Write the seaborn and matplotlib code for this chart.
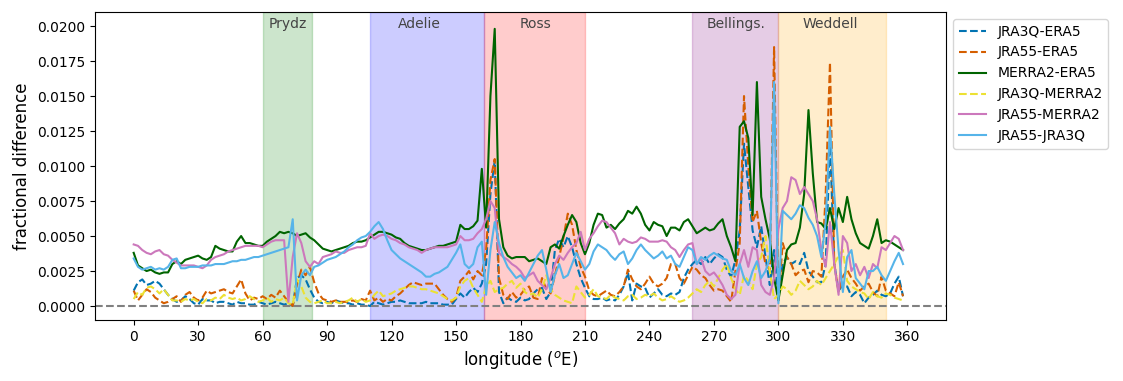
import numpy as np
import pandas as pd
import matplotlib
matplotlib.use("Agg")
import matplotlib.pyplot as plt
import matplotlib.transforms as mtransforms
import seaborn as sns

# longitude grid (deg E)
lon = np.arange(0, 360, 2)

# values in units of 1e-4 (fractional difference)
jra3q_era5 = [
    11, 17, 19, 15, 16, 18, 16, 12, 8, 5,
    3, 4, 7, 5, 2, 1, 5, 4, 4, 2,
    3, 3, 2, 1, 3, 2, 2, 1, 1, 3,
    2, 1, 2, 3, 2, 1, 2, 0, 20, 22,
    19, 12, 6, 3, 2, 3, 2, 4, 3, 2,
    2, 1, 2, 1, 1, 0, 3, 2, 1, 2,
    3, 3, 4, 3, 2, 2, 2, 2, 3, 2,
    2, 2, 1, 1, 1, 5, 9, 6, 10, 13,
    10, 16, 30, 80, 104, 10, 2, 6, 4, 3,
    6, 4, 5, 9, 12, 13, 5, 10, 40, 48,
    42, 50, 42, 30, 20, 13, 7, 5, 5, 6,
    4, 5, 4, 8, 14, 24, 4, 16, 14, 13,
    6, 9, 12, 8, 7, 9, 8, 10, 20, 26,
    30, 33, 30, 35, 30, 34, 37, 35, 26, 21,
    33, 54, 116, 85, 54, 42, 57, 35, 15, 40,
    7, 30, 35, 30, 32, 30, 38, 25, 21, 17,
    17, 30, 118, 30, 11, 15, 14, 7, 10, 8,
    2, 6, 8, 11, 8, 7, 9, 16, 21, 7,
]
jra55_era5 = [
    11, 4, 8, 12, 10, 6, 4, 2, 3, 5,
    7, 3, 8, 10, 6, 4, 6, 11, 9, 10,
    11, 12, 10, 9, 14, 19, 9, 4, 6, 5,
    7, 5, 8, 6, 11, 7, 3, 0, 15, 26,
    22, 28, 17, 9, 5, 4, 3, 4, 3, 3,
    3, 4, 3, 5, 4, 11, 4, 6, 3, 5,
    4, 7, 9, 12, 15, 17, 16, 15, 16, 16,
    16, 12, 8, 5, 3, 6, 18, 21, 25, 19,
    25, 22, 40, 90, 105, 20, 8, 5, 10, 6,
    8, 12, 14, 6, 5, 20, 12, 9, 22, 35,
    49, 66, 58, 40, 28, 21, 11, 8, 7, 9,
    11, 8, 7, 10, 14, 26, 19, 14, 12, 16,
    21, 16, 14, 16, 20, 30, 30, 20, 16, 22,
    28, 26, 22, 20, 15, 11, 12, 11, 7, 3,
    25, 45, 150, 100, 60, 68, 45, 30, 26, 185,
    3, 45, 35, 30, 22, 25, 26, 17, 25, 24,
    21, 80, 174, 30, 10, 21, 26, 20, 16, 11,
    14, 16, 10, 7, 21, 11, 9, 7, 17, 7,
]
merra2_era5 = [
    38, 29, 27, 25, 26, 24, 23, 24, 24, 30,
    32, 30, 33, 34, 35, 36, 34, 33, 35, 43,
    41, 40, 39, 39, 46, 50, 45, 45, 44, 43,
    43, 46, 48, 50, 53, 52, 53, 52, 50, 51,
    52, 49, 47, 44, 41, 40, 39, 40, 41, 42,
    43, 45, 46, 46, 47, 49, 51, 53, 53, 52,
    51, 49, 48, 45, 43, 42, 41, 40, 40, 41,
    42, 43, 43, 44, 45, 46, 58, 55, 55, 57,
    61, 98, 56, 150, 198, 62, 42, 36, 34, 35,
    35, 35, 32, 33, 34, 32, 30, 42, 44, 41,
    50, 58, 65, 60, 45, 37, 45, 58, 66, 65,
    56, 58, 55, 59, 62, 68, 66, 71, 66, 58,
    54, 60, 58, 57, 50, 56, 56, 54, 60, 62,
    57, 52, 54, 56, 54, 55, 59, 62, 50, 42,
    32, 128, 132, 120, 65, 160, 78, 62, 48, 20,
    4, 22, 40, 44, 45, 56, 80, 140, 95, 60,
    59, 55, 70, 55, 70, 60, 78, 62, 52, 45,
    43, 41, 50, 62, 45, 47, 46, 44, 42, 40,
]
jra3q_merra2 = [
    5, 10, 8, 13, 14, 12, 9, 12, 8, 4,
    4, 3, 5, 4, 5, 3, 2, 5, 4, 6,
    5, 8, 6, 5, 6, 4, 5, 7, 5, 3,
    4, 6, 3, 5, 4, 6, 2, 1, 19, 14,
    6, 3, 2, 3, 4, 2, 2, 3, 2, 3,
    4, 6, 3, 5, 3, 4, 8, 11, 7, 8,
    9, 11, 12, 13, 14, 14, 13, 12, 12, 11,
    10, 9, 7, 5, 4, 6, 14, 18, 20, 13,
    8, 3, 14, 18, 10, 12, 13, 16, 18, 13,
    16, 10, 8, 9, 6, 12, 22, 12, 8, 6,
    4, 3, 2, 14, 10, 6, 8, 12, 7, 6,
    5, 8, 6, 5, 4, 7, 8, 5, 6, 8,
    7, 9, 6, 4, 5, 7, 5, 3, 4, 6,
    9, 12, 10, 15, 18, 14, 20, 26, 30, 20,
    12, 8, 22, 18, 12, 30, 35, 50, 25, 5,
    8, 14, 12, 8, 11, 18, 15, 12, 14, 18,
    15, 20, 25, 30, 36, 40, 18, 14, 12, 10,
    9, 5, 10, 7, 6, 9, 8, 6, 5, 4,
]
jra55_merra2 = [
    44, 43, 40, 38, 37, 39, 40, 37, 36, 33,
    31, 29, 29, 29, 29, 28, 27, 29, 33, 35,
    36, 37, 39, 40, 41, 42, 43, 43, 43, 43,
    42, 44, 46, 47, 47, 47, 3, 35, 52, 45,
    32, 28, 32, 30, 35, 36, 37, 39, 38, 38,
    40, 41, 42, 42, 43, 52, 48, 50, 51, 50,
    48, 47, 45, 44, 42, 41, 40, 38, 40, 41,
    42, 42, 42, 42, 43, 44, 50, 47, 47, 48,
    52, 55, 62, 75, 70, 38, 35, 33, 30, 28,
    25, 20, 22, 24, 18, 15, 12, 20, 30, 36,
    33, 38, 42, 45, 53, 40, 48, 52, 57, 61,
    60, 56, 52, 44, 48, 46, 45, 46, 49, 48,
    46, 46, 46, 47, 46, 42, 40, 35, 40, 44,
    45, 30, 34, 25, 22, 24, 20, 15, 8, 5,
    8, 30, 40, 28, 42, 40, 15, 10, 8, 20,
    55, 70, 75, 92, 90, 80, 85, 80, 75, 62,
    40, 28, 60, 30, 8, 50, 45, 25, 30, 22,
    28, 20, 30, 27, 42, 40, 45, 50, 48, 40,
]
jra55_jra3q = [
    34, 28, 26, 27, 28, 26, 27, 26, 28, 33,
    34, 27, 27, 28, 28, 28, 29, 29, 29, 30,
    30, 30, 31, 32, 32, 33, 33, 34, 35, 35,
    36, 37, 38, 39, 40, 41, 42, 62, 4, 22,
    26, 22, 28, 29, 31, 33, 34, 35, 37, 39,
    42, 44, 47, 49, 50, 53, 57, 60, 55, 47,
    40, 37, 34, 32, 30, 28, 26, 24, 21, 21,
    23, 24, 26, 28, 33, 38, 44, 30, 27, 30,
    42, 46, 8, 40, 60, 45, 35, 28, 24, 20,
    22, 18, 24, 30, 36, 40, 26, 10, 22, 30,
    20, 22, 30, 38, 32, 26, 30, 39, 44, 42,
    40, 36, 33, 37, 39, 30, 34, 40, 44, 40,
    37, 34, 36, 39, 34, 36, 30, 28, 35, 42,
    40, 30, 35, 33, 36, 38, 36, 34, 33, 25,
    22, 30, 20, 15, 25, 32, 20, 25, 34, 160,
    2, 68, 65, 62, 66, 72, 70, 63, 58, 50,
    35, 60, 128, 80, 40, 10, 35, 40, 20, 16,
    12, 25, 25, 28, 22, 18, 25, 32, 38, 30,
]

series_names = ["JRA3Q-ERA5", "JRA55-ERA5", "MERRA2-ERA5",
                "JRA3Q-MERRA2", "JRA55-MERRA2", "JRA55-JRA3Q"]
series_values = [jra3q_era5, jra55_era5, merra2_era5,
                 jra3q_merra2, jra55_merra2, jra55_jra3q]
series_colors = ["#0173b2", "#d55e00", "darkgreen",
                 "#ece133", "#cc78bc", "#56b4e9"]
series_styles = ["--", "--", "-", "--", "-", "-"]

region_names = ["Prydz", "Adelie", "Ross", "Bellings.", "Weddell"]
region_start = [60, 110, 163, 260, 300]
region_end = [83, 163, 210, 300, 350]
region_label_lon = [71.5, 133, 187, 280.5, 324]
region_colors = ["green", "blue", "red", "purple", "orange"]

fig = plt.figure(figsize=(11.23, 3.81), dpi=100)
ax = fig.add_axes([0.0846, 0.160, 0.7578, 0.8084])

for s, e, c in zip(region_start, region_end, region_colors):
    ax.axvspan(s, e, color=c, alpha=0.2, lw=1)

for name, vals, col, ls in zip(series_names, series_values, series_colors, series_styles):
    df = pd.DataFrame({"lon": lon, "val": np.asarray(vals, dtype=float) * 1e-4})
    sns.lineplot(data=df, x="lon", y="val", ax=ax, color=col, linestyle=ls,
                 label=name, lw=1.5)

ax.axhline(0, color="gray", ls="--", lw=1.5)

trans = mtransforms.blended_transform_factory(ax.transData, ax.transAxes)
for name, xl in zip(region_names, region_label_lon):
    ax.text(xl, 0.985, name, transform=trans, ha="center", va="top",
            fontsize=10, color="#444444")

ax.set_xlim(-18, 378)
ax.set_ylim(-0.001, 0.021)
ax.set_xticks(np.arange(0, 361, 30))
ax.set_yticks(np.arange(0, 0.02001, 0.0025))
ax.yaxis.set_major_formatter(matplotlib.ticker.FormatStrFormatter("%.4f"))
ax.set_xlabel(r"longitude ($^o$E)", fontsize=12)
ax.set_ylabel("fractional difference", fontsize=12)
ax.legend(loc="upper left", bbox_to_anchor=(1.0, 1.0), fontsize=10)

fig.savefig("out.png", dpi=100)
